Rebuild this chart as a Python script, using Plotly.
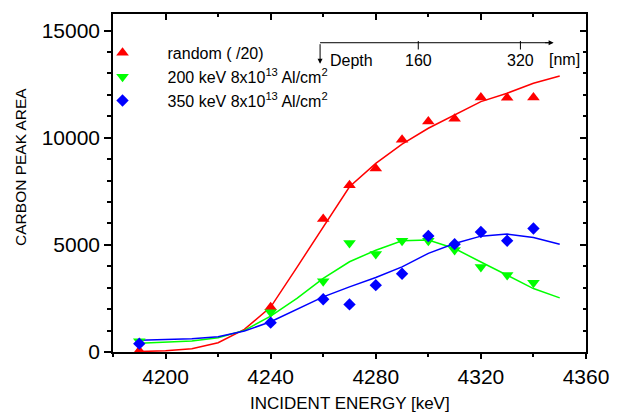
import plotly.graph_objects as go

# measured points
energy_pts = [4190, 4240, 4260, 4270, 4280, 4290, 4300, 4310, 4320, 4330, 4340]
random_pts = [60, 2090, 6200, 7780, 8560, 9900, 10750, 10880, 11870, 11860, 11870]
g200_pts = [500, 1860, 3300, 5080, 4570, 5190, 5190, 4760, 3960, 3590, 3230]
b350_pts = [390, 1370, 2460, 2220, 3120, 3650, 5410, 5030, 5600, 5190, 5760]

# fitted curves
fit_e = [4190, 4200, 4210, 4220, 4230, 4240, 4250, 4260, 4270, 4280, 4290,
         4300, 4310, 4320, 4330, 4340, 4350]
random_fit = [20, 60, 155, 433, 1055, 2095, 3950, 5840, 7710, 8800, 9700,
              10440, 11060, 11680, 12075, 12540, 12880]
g200_fit = [405, 440, 510, 665, 1010, 1675, 2500, 3430, 4210, 4750, 5190,
            5220, 4830, 4200, 3585, 2960, 2525]
b350_fit = [545, 570, 620, 710, 980, 1410, 1990, 2570, 3040, 3475, 3970,
            4600, 5065, 5405, 5500, 5345, 5030]

# depth scale (inset axis)
depth_ticks = [160, 320]
depth_max = 372

names = ["random ( /20)",
         "200 keV 8x10<sup>13</sup> Al/cm<sup>2</sup>",
         "350 keV 8x10<sup>13</sup> Al/cm<sup>2</sup>"]
colors = ["#ff0000", "#00ff00", "#0000ff"]
symbols = ["triangle-up", "triangle-down", "diamond"]
sizes = [11, 11, 9.5]

FONT = "Liberation Sans, Arial, sans-serif"

fig = go.Figure()
for fit, c in zip([random_fit, g200_fit, b350_fit], colors):
    fig.add_trace(go.Scatter(x=fit_e, y=fit, mode="lines",
                             line=dict(color=c, width=1.5),
                             showlegend=False, hoverinfo="skip"))
for pts, c, s, sz, n in zip([random_pts, g200_pts, b350_pts], colors, symbols, sizes, names):
    fig.add_trace(go.Scatter(x=energy_pts, y=pts, mode="markers", name=n,
                             marker=dict(color=c, symbol=s, size=sz,
                                         line=dict(width=0))))

# invisible trace to activate mirror axes
fig.add_trace(go.Scatter(x=[4180], y=[0], xaxis="x2", yaxis="y2", mode="markers",
                         marker=dict(opacity=0), showlegend=False, hoverinfo="skip"))

axis_common = dict(showline=True, linecolor="black", linewidth=1.5,
                   showgrid=False, zeroline=False, tickcolor="black", tickformat="d",
                   tickwidth=1.5, tickfont=dict(family=FONT, size=21, color="black"))

fig.update_layout(
    width=621, height=415,
    margin=dict(l=113, r=26, t=14, b=63),
    paper_bgcolor="white", plot_bgcolor="white",
    font=dict(family=FONT, color="black"),
    xaxis=dict(range=[4180, 4360], dtick=40, tick0=4200, ticks="outside", ticklen=5,
               minor=dict(dtick=20, ticks="outside", ticklen=3, tickcolor="black", tickwidth=1.5),
               **axis_common),
    yaxis=dict(range=[0, 15770], dtick=5000, ticks="outside", ticklen=7,
               minor=dict(dtick=1000, ticks="outside", ticklen=4, tickcolor="black", tickwidth=1.5),
               **axis_common),
    xaxis2=dict(overlaying="x", side="top", anchor="y2", range=[4180, 4360], dtick=40,
                tick0=4200, ticks="inside", ticklen=6, showticklabels=False,
                minor=dict(dtick=20, ticks="inside", ticklen=3, tickcolor="black", tickwidth=1.5),
                **axis_common),
    yaxis2=dict(overlaying="y", side="right", anchor="x2", range=[0, 15770], dtick=5000,
                ticks="inside", ticklen=6, showticklabels=False,
                minor=dict(dtick=1000, ticks="inside", ticklen=3, tickcolor="black", tickwidth=1.5),
                **axis_common),
    legend=dict(x=-0.075, y=0.935, xanchor="left", yanchor="top",
                bgcolor="rgba(0,0,0,0)", itemwidth=80,
                font=dict(family=FONT, size=16, color="black")),
    showlegend=True,
)

fig.add_annotation(text="CARBON PEAK AREA", textangle=-90, xref="paper", yref="paper",
                   x=-0.197, y=0.547, xanchor="center", yanchor="middle", showarrow=False,
                   font=dict(family=FONT, size=15.5, color="black"))
fig.add_annotation(text="INCIDENT ENERGY [keV]", xref="paper", yref="paper",
                   x=0.5, y=-0.153, xanchor="center", yanchor="middle", showarrow=False,
                   font=dict(family=FONT, size=17, color="black"))

# depth inset axis, in paper coordinates
d_origin, d_start, d_x1, d_y = 0.4295, 0.4378, 0.9315, 0.915


def depth_to_paper(d):
    return d_origin + d / depth_max * (d_x1 - d_origin)


fig.add_shape(type="line", xref="paper", yref="paper", x0=d_start, x1=d_x1 - 0.01,
              y0=d_y, y1=d_y, line=dict(color="black", width=1))
for d in depth_ticks:
    xp = depth_to_paper(d)
    fig.add_shape(type="line", xref="paper", yref="paper", x0=xp, x1=xp,
                  y0=d_y + 0.005, y1=d_y - 0.02, line=dict(color="black", width=1))
    fig.add_annotation(text=str(d), xref="paper", yref="paper", x=xp, y=0.862,
                       xanchor="center", yanchor="middle", showarrow=False,
                       font=dict(family=FONT, size=16, color="black"))
fig.add_annotation(text="Depth", xref="paper", yref="paper", x=0.4544, y=0.862,
                   xanchor="left", yanchor="middle", showarrow=False,
                   font=dict(family=FONT, size=16, color="black"))
fig.add_annotation(text="[nm]", xref="paper", yref="paper", x=0.917, y=0.865,
                   xanchor="left", yanchor="middle", showarrow=False,
                   font=dict(family=FONT, size=16, color="black"))
fig.add_annotation(xref="paper", yref="paper", x=d_x1, y=d_y, ax=-10, ay=0,
                   text="", showarrow=True, arrowhead=2, arrowsize=1, arrowwidth=1,
                   arrowcolor="black")
fig.add_annotation(xref="paper", yref="paper", x=d_start, y=0.853, ax=0, ay=-21,
                   text="", showarrow=True, arrowhead=2, arrowsize=1, arrowwidth=1,
                   arrowcolor="black")

fig.write_html("out.html")
